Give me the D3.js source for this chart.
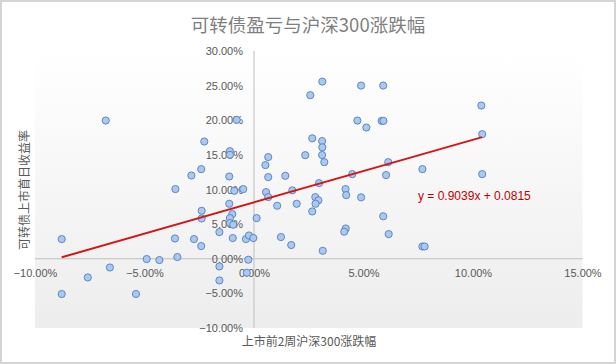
<!DOCTYPE html>
<html>
<head>
<meta charset="utf-8">
<script src="https://cdn.jsdelivr.net/npm/d3@7"></script>
<style>
  body { margin: 0; background: #fff; }
  text { font-family: "Liberation Sans", "Noto Sans CJK SC", sans-serif; }
  .cjk { font-family: "Noto Sans CJK SC", sans-serif; }
</style>
</head>
<body>
<svg width="616" height="364"></svg>
<script>
// 上市前2周沪深300涨跌幅 (x) vs 可转债上市首日收益率 (y)
const hs300Change = [
  -0.0677, -0.0878, -0.0878, -0.0759, -0.0658, -0.0539, -0.0490, -0.0432, -0.0350, -0.0361,
  -0.0274, -0.0241, -0.0239, -0.0239, -0.0158, -0.0158, -0.0158, -0.0113, -0.0099, -0.0110,
  -0.0110, -0.0095, -0.0097, -0.0037, -0.0023, -0.0003, 0.0012, -0.0026, -0.0033, -0.0227,
  -0.0110, -0.0110, -0.0079, -0.0241, -0.0286, -0.0359, -0.0113, -0.0090, -0.0049, 0.0065,
  0.0052, 0.0065, 0.0055, 0.0065, 0.0106, 0.0143, 0.0175, 0.0195, 0.0234, 0.0257,
  0.0312, 0.0266, 0.0311, 0.0312, 0.0311, 0.0321, 0.0297, 0.0280, 0.0294, 0.0281,
  0.0266, 0.0418, 0.0421, 0.0449, 0.0472, 0.0489, 0.0513, 0.0489, 0.0583, 0.0591,
  0.0590, 0.0613, 0.0603, 0.0590, 0.0615, 0.0419, 0.0412, 0.0314, 0.0170, 0.0123,
  0.0769, 0.0769, 0.0779, 0.1038, 0.1042, 0.1042
];
const firstDayReturn = [
  0.1996, 0.0284, -0.0509, -0.0270, -0.0126, -0.0509, -0.0004, -0.0019, 0.0025, 0.0293,
  0.0284, 0.0183, 0.0693, 0.0582, 0.0385, -0.0111, -0.0313, 0.0794, 0.0645, 0.0587,
  0.0515, 0.0491, 0.0299, 0.0284, 0.0336, 0.0299, 0.0587, -0.0014, -0.0202, 0.1693,
  0.1554, 0.1501, 0.2006, 0.1294, 0.1202, 0.1006, 0.1188, 0.0981, 0.1006, 0.1468,
  0.1352, 0.1179, 0.0962, 0.0890, 0.0765, 0.1198, 0.0988, 0.0794, 0.1496, 0.2362,
  0.2558, 0.1739, 0.1700, 0.1609, 0.1498, 0.1395, 0.1092, 0.0890, 0.0844, 0.0794,
  0.0683, 0.1006, 0.0919, 0.1222, 0.1996, 0.2501, 0.1895, 0.0887, 0.1991, 0.1991,
  0.2501, 0.1395, 0.1208, 0.0613, 0.0356, 0.0437, 0.0390, 0.0115, 0.0198, 0.0313,
  0.1294, 0.0177, 0.0177, 0.2212, 0.1799, 0.1222
];
const xTicks = [-0.10, -0.05, 0, 0.05, 0.10, 0.15];
const yTicks = [-0.10, -0.05, 0, 0.05, 0.10, 0.15, 0.20, 0.25, 0.30];
const slope = 0.9039, intercept = 0.0815;
const titleText = "可转债盈亏与沪深300涨跌幅";
const xTitle = "上市前2周沪深300涨跌幅";
const yTitle = "可转债上市首日收益率";

const svg = d3.select("svg");
const x = d3.scaleLinear().domain([-0.10, 0.15]).range([35, 582.5]);
const y = d3.scaleLinear().domain([-0.10, 0.30]).range([328, 51]);
const pct = d3.format(".2%");

// outer frame
svg.append("rect").attr("x", 1).attr("y", 1).attr("width", 614).attr("height", 362)
  .attr("fill", "#fff").attr("stroke", "#d4d4d4").attr("stroke-width", 2);

// plot area with a faint gradient
const grad = svg.append("defs").append("linearGradient")
  .attr("id", "bg").attr("x1", 0).attr("y1", 0).attr("x2", 0).attr("y2", 1);
grad.append("stop").attr("offset", "0%").attr("stop-color", "#ffffff");
grad.append("stop").attr("offset", "100%").attr("stop-color", "#ededed");
svg.append("rect")
  .attr("x", x(-0.10)).attr("y", y(0.30))
  .attr("width", x(0.15) - x(-0.10)).attr("height", y(-0.10) - y(0.30))
  .attr("fill", "url(#bg)");

// axis lines through zero
svg.append("line").attr("x1", x(-0.10)).attr("x2", x(0.15)).attr("y1", y(0)).attr("y2", y(0))
  .attr("stroke", "#bfbfbf");
svg.append("line").attr("x1", x(0)).attr("x2", x(0)).attr("y1", y(0.30)).attr("y2", y(-0.10))
  .attr("stroke", "#bfbfbf");

// tick labels
const xAxis = svg.append("g").attr("transform", `translate(0,${y(0)})`)
  .call(d3.axisBottom(x).tickValues(xTicks).tickFormat(pct).tickSize(0).tickPadding(10));
const yAxis = svg.append("g").attr("transform", `translate(${x(0)},0)`)
  .call(d3.axisLeft(y).tickValues(yTicks).tickFormat(pct).tickSize(0).tickPadding(11));
[xAxis, yAxis].forEach(g => {
  g.select(".domain").remove();
  g.selectAll("text").attr("fill", "#595959").style("font-size", "11px")
    .style("font-family", "'Liberation Sans', sans-serif");
});

// points
svg.append("g").selectAll("circle")
  .data(hs300Change.map((d, i) => [d, firstDayReturn[i]]))
  .join("circle")
  .attr("cx", d => x(d[0])).attr("cy", d => y(d[1])).attr("r", 3.6)
  .attr("fill", "#adc8ee").attr("stroke", "#4f7fc0").attr("stroke-width", 0.9);

// trend line over the data range
const xr = d3.extent(hs300Change);
svg.append("line")
  .attr("x1", x(xr[0])).attr("y1", y(slope * xr[0] + intercept))
  .attr("x2", x(xr[1])).attr("y2", y(slope * xr[1] + intercept))
  .attr("stroke", "#d01818").attr("stroke-width", 2);

svg.append("text").attr("x", 418).attr("y", 200)
  .attr("fill", "#c00000").style("font-size", "12px")
  .text(`y = ${slope}x + ${intercept}`);

// titles
svg.append("text").attr("class", "cjk").attr("x", 308).attr("y", 32)
  .attr("text-anchor", "middle").attr("fill", "#7f7f7f").style("font-size", "18.5px")
  .text(titleText);
svg.append("text").attr("class", "cjk").attr("x", 309).attr("y", 346)
  .attr("text-anchor", "middle").attr("fill", "#595959").style("font-size", "12px")
  .text(xTitle);
svg.append("text").attr("class", "cjk")
  .attr("transform", "translate(29,190)rotate(-90)")
  .attr("text-anchor", "middle").attr("fill", "#595959").style("font-size", "12px")
  .text(yTitle);
</script>
</body>
</html>
